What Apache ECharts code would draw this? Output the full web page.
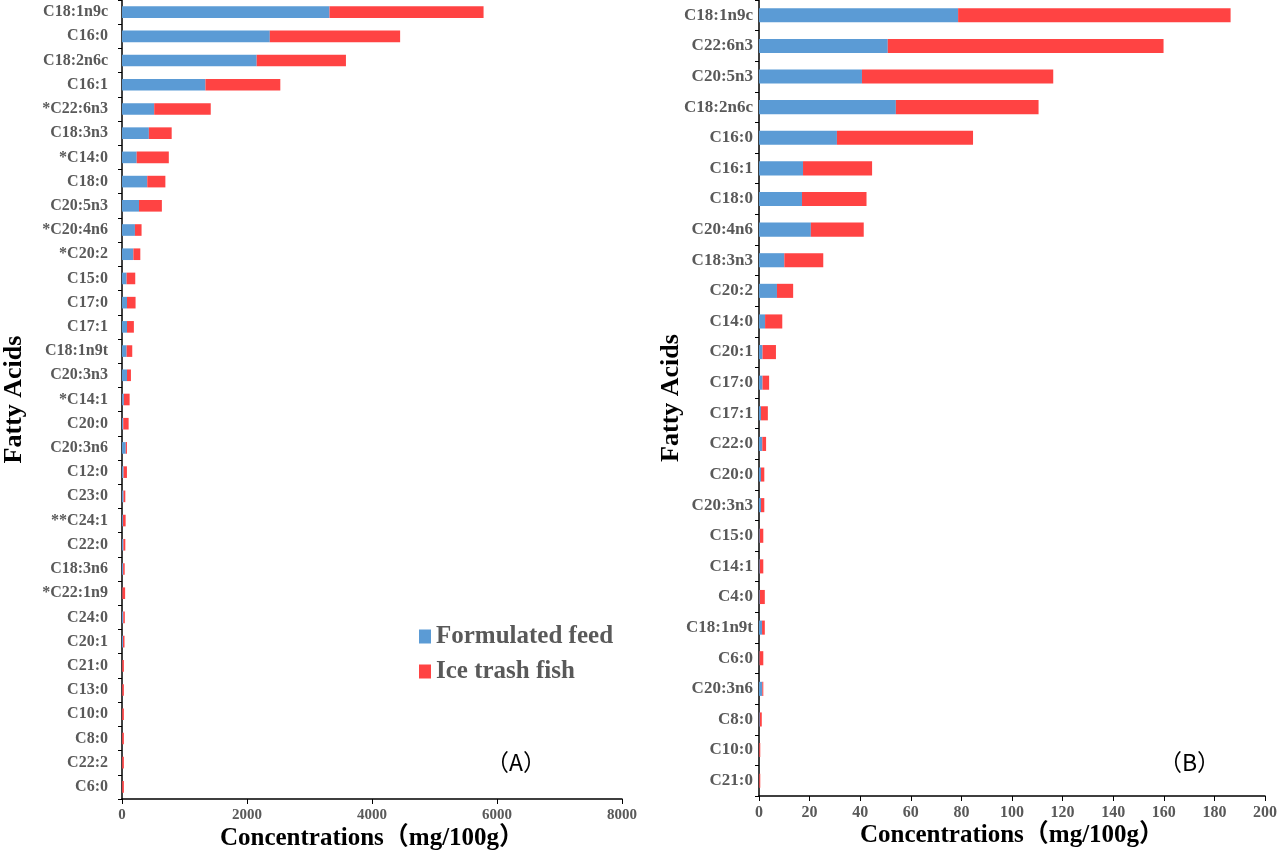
<!DOCTYPE html>
<html>
<head>
<meta charset="utf-8">
<script src="https://cdn.jsdelivr.net/npm/echarts@6/dist/echarts.min.js"></script>
<style>
html,body{margin:0;padding:0;background:#fff;}
#c{width:1280px;height:856px;}
</style>
</head>
<body>
<div id="c"></div>
<script>
// Panel A
const catsA = ['C18:1n9c','C16:0','C18:2n6c','C16:1','*C22:6n3','C18:3n3','*C14:0','C18:0','C20:5n3','*C20:4n6','*C20:2','C15:0','C17:0','C17:1','C18:1n9t','C20:3n3','*C14:1','C20:0','C20:3n6','C12:0','C23:0','**C24:1','C22:0','C18:3n6','*C22:1n9','C24:0','C20:1','C21:0','C13:0','C10:0','C8:0','C22:2','C6:0'];
const feedA = [3320,2365,2155,1335,515,430,235,404,272,207,182,74,80,80,74,80,30,20,60,25,25,15,22,18,6,20,16,4,4,3,3,3,3];
const fishA = [2465,2085,1428,1198,905,365,514,290,366,106,111,138,137,110,90,63,92,86,19,54,28,43,31,25,44,25,24,26,26,27,27,27,27];
// Panel B
const catsB = ['C18:1n9c','C22:6n3','C20:5n3','C18:2n6c','C16:0','C16:1','C18:0','C20:4n6','C18:3n3','C20:2','C14:0','C20:1','C17:0','C17:1','C22:0','C20:0','C20:3n3','C15:0','C14:1','C4:0','C18:1n9t','C6:0','C20:3n6','C8:0','C10:0','C21:0'];
const feedB = [78.7,50.9,40.7,54.1,30.8,17.4,17.0,20.5,10.0,7.1,2.4,1.4,1.4,0.8,1.3,0.8,0.8,0.3,0.3,0.3,1.2,0.2,1.3,0.3,0.1,0.1];
const fishB = [107.7,109.0,75.6,56.4,53.8,27.3,25.5,20.9,15.4,6.4,6.8,5.3,2.6,2.7,1.5,1.3,1.3,1.4,1.4,2.0,1.1,1.5,0.4,0.8,0.4,0.4];
const ticksA = [0,2000,4000,6000,8000];
const ticksB = [0,20,40,60,80,100,120,140,160,180,200];

const SERIF = '"Liberation Serif","Times New Roman","Noto Sans CJK SC",serif';
const GRAY = '#595959';
const BLUE = '#5B9BD5';
const RED = '#FF4343';

function xAx(gi, ticks, fs) {
  return {
    type:'value', gridIndex:gi, min:ticks[0], max:ticks[ticks.length-1],
    interval: ticks[1]-ticks[0],
    name:'Concentrations（mg/100g）', nameLocation:'middle', nameGap:27,
    nameMoveOverlap:false,
    nameTextStyle:{fontFamily:SERIF, fontWeight:'bold', fontSize:25, color:'#000'},
    axisLine:{show:true, lineStyle:{color:'#000', width:1.5}},
    axisTick:{show:true, length:5, lineStyle:{color:'#000'}},
    axisLabel:{fontFamily:SERIF, fontWeight:'bold', fontSize:fs, color:GRAY, margin:9,
      formatter:function(v){return String(v);}},
    splitLine:{show:false}
  };
}
function yAx(gi, cats, gap, fs, margin) {
  return {
    type:'category', gridIndex:gi, data:cats, inverse:true,
    name:'Fatty Acids', nameLocation:'middle', nameGap:gap, nameRotate:90,
    nameMoveOverlap:false,
    nameTextStyle:{fontFamily:SERIF, fontWeight:'bold', fontSize:26, color:'#000'},
    axisLine:{show:true, lineStyle:{color:'#000', width:1.5}},
    axisTick:{show:true, length:4, lineStyle:{color:'#000'}},
    axisLabel:{fontFamily:SERIF, fontWeight:'bold', fontSize:fs, color:GRAY, margin:margin},
    splitLine:{show:false}
  };
}

const chart = echarts.init(document.getElementById('c'));
chart.setOption({
  animation:false,
  backgroundColor:'#fff',
  grid:[
    {left:120, width:502, top:0, bottom:57, containLabel:false},
    {left:759, width:509, top:0, bottom:60, containLabel:false}
  ],
  xAxis:[xAx(0, ticksA, 15), xAx(1, ticksB, 16)],
  yAxis:[yAx(0, catsA, 95, 16, 14), yAx(1, catsB, 75, 17, 6)],
  legend:{
    data:['Formulated feed','Ice trash fish'],
    orient:'vertical', left:414, top:619, itemWidth:12, itemHeight:14, itemGap:10,
    icon:'rect',
    textStyle:{fontFamily:SERIF, fontWeight:'bold', fontSize:25, color:GRAY}
  },
  series:[
    {name:'Formulated feed', type:'bar', stack:'A', xAxisIndex:0, yAxisIndex:0, data:feedA, barWidth:'48%', itemStyle:{color:BLUE}},
    {name:'Ice trash fish', type:'bar', stack:'A', xAxisIndex:0, yAxisIndex:0, data:fishA, barWidth:'48%', itemStyle:{color:RED}},
    {name:'Formulated feed', type:'bar', stack:'B', xAxisIndex:1, yAxisIndex:1, data:feedB, barWidth:'46%', itemStyle:{color:BLUE}},
    {name:'Ice trash fish', type:'bar', stack:'B', xAxisIndex:1, yAxisIndex:1, data:fishB, barWidth:'46%', itemStyle:{color:RED}}
  ],
  graphic:[
    {type:'text', left:486, top:751, style:{text:'（A）', fontFamily:'"Noto Sans CJK SC",sans-serif', fontSize:23, fill:'#000'}},
    {type:'text', left:1159, top:751, style:{text:'（B）', fontFamily:'"Noto Sans CJK SC",sans-serif', fontSize:23, fill:'#000'}}
  ]
});
</script>
</body>
</html>
